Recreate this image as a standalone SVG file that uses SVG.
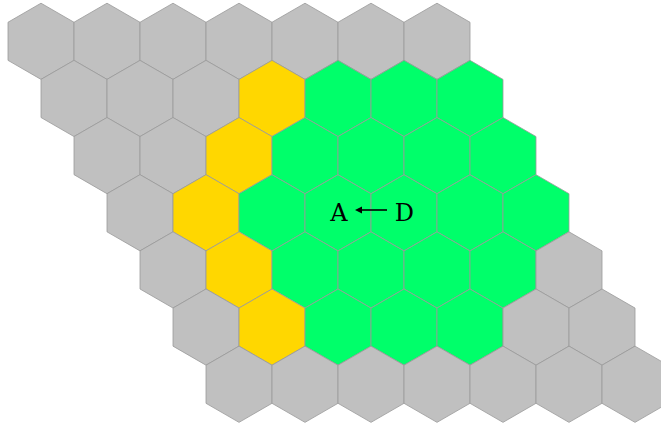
<svg xmlns="http://www.w3.org/2000/svg" xmlns:xlink="http://www.w3.org/1999/xlink" width="661" height="427" viewBox="0 0 661 427">
<style>
.g{fill:#c0c0c0}
.y{fill:#ffd700}
.n{fill:#00ff6a}
.hx{stroke:#999999;stroke-width:0.8}
.lbl{font-family:"DejaVu Serif","Liberation Serif",serif;font-size:24px;fill:#000;text-anchor:middle}
</style>
<defs>
<polygon id="hex" class="hx" points="0,-38.1 33,-19.05 33,19.05 0,38.1 -33,19.05 -33,-19.05"/>
</defs>
<rect width="661" height="427" fill="#ffffff"/>
<g id="r0">
<g id="h0_0" class="g"><use xlink:href="#hex" x="41" y="41.3"/></g>
<g id="h0_1" class="g"><use xlink:href="#hex" x="107" y="41.3"/></g>
<g id="h0_2" class="g"><use xlink:href="#hex" x="173" y="41.3"/></g>
<g id="h0_3" class="g"><use xlink:href="#hex" x="239" y="41.3"/></g>
<g id="h0_4" class="g"><use xlink:href="#hex" x="305" y="41.3"/></g>
<g id="h0_5" class="g"><use xlink:href="#hex" x="371" y="41.3"/></g>
<g id="h0_6" class="g"><use xlink:href="#hex" x="437" y="41.3"/></g>
</g>
<g id="r1">
<g id="h1_0" class="g"><use xlink:href="#hex" x="74" y="98.46"/></g>
<g id="h1_1" class="g"><use xlink:href="#hex" x="140" y="98.46"/></g>
<g id="h1_2" class="g"><use xlink:href="#hex" x="206" y="98.46"/></g>
<g id="h1_3" class="y"><use xlink:href="#hex" x="272" y="98.46"/></g>
<g id="h1_4" class="n"><use xlink:href="#hex" x="338" y="98.46"/></g>
<g id="h1_5" class="n"><use xlink:href="#hex" x="404" y="98.46"/></g>
<g id="h1_6" class="n"><use xlink:href="#hex" x="470" y="98.46"/></g>
</g>
<g id="r2">
<g id="h2_0" class="g"><use xlink:href="#hex" x="107" y="155.62"/></g>
<g id="h2_1" class="g"><use xlink:href="#hex" x="173" y="155.62"/></g>
<g id="h2_2" class="y"><use xlink:href="#hex" x="239" y="155.62"/></g>
<g id="h2_3" class="n"><use xlink:href="#hex" x="305" y="155.62"/></g>
<g id="h2_4" class="n"><use xlink:href="#hex" x="371" y="155.62"/></g>
<g id="h2_5" class="n"><use xlink:href="#hex" x="437" y="155.62"/></g>
<g id="h2_6" class="n"><use xlink:href="#hex" x="503" y="155.62"/></g>
</g>
<g id="r3">
<g id="h3_0" class="g"><use xlink:href="#hex" x="140" y="212.78"/></g>
<g id="h3_1" class="y"><use xlink:href="#hex" x="206" y="212.78"/></g>
<g id="h3_2" class="n"><use xlink:href="#hex" x="272" y="212.78"/></g>
<g id="h3_3" class="n"><use xlink:href="#hex" x="338" y="212.78"/></g>
<g id="h3_4" class="n"><use xlink:href="#hex" x="404" y="212.78"/></g>
<g id="h3_5" class="n"><use xlink:href="#hex" x="470" y="212.78"/></g>
<g id="h3_6" class="n"><use xlink:href="#hex" x="536" y="212.78"/></g>
</g>
<g id="r4">
<g id="h4_0" class="g"><use xlink:href="#hex" x="173" y="269.94"/></g>
<g id="h4_1" class="y"><use xlink:href="#hex" x="239" y="269.94"/></g>
<g id="h4_2" class="n"><use xlink:href="#hex" x="305" y="269.94"/></g>
<g id="h4_3" class="n"><use xlink:href="#hex" x="371" y="269.94"/></g>
<g id="h4_4" class="n"><use xlink:href="#hex" x="437" y="269.94"/></g>
<g id="h4_5" class="n"><use xlink:href="#hex" x="503" y="269.94"/></g>
<g id="h4_6" class="g"><use xlink:href="#hex" x="569" y="269.94"/></g>
</g>
<g id="r5">
<g id="h5_0" class="g"><use xlink:href="#hex" x="206" y="327.1"/></g>
<g id="h5_1" class="y"><use xlink:href="#hex" x="272" y="327.1"/></g>
<g id="h5_2" class="n"><use xlink:href="#hex" x="338" y="327.1"/></g>
<g id="h5_3" class="n"><use xlink:href="#hex" x="404" y="327.1"/></g>
<g id="h5_4" class="n"><use xlink:href="#hex" x="470" y="327.1"/></g>
<g id="h5_5" class="g"><use xlink:href="#hex" x="536" y="327.1"/></g>
<g id="h5_6" class="g"><use xlink:href="#hex" x="602" y="327.1"/></g>
</g>
<g id="r6">
<g id="h6_0" class="g"><use xlink:href="#hex" x="239" y="384.26"/></g>
<g id="h6_1" class="g"><use xlink:href="#hex" x="305" y="384.26"/></g>
<g id="h6_2" class="g"><use xlink:href="#hex" x="371" y="384.26"/></g>
<g id="h6_3" class="g"><use xlink:href="#hex" x="437" y="384.26"/></g>
<g id="h6_4" class="g"><use xlink:href="#hex" x="503" y="384.26"/></g>
<g id="h6_5" class="g"><use xlink:href="#hex" x="569" y="384.26"/></g>
<g id="h6_6" class="g"><use xlink:href="#hex" x="635" y="384.26"/></g>
</g>
<g id="labels">
<text id="A" class="lbl" x="339" y="221.3">A</text>
<text id="D" class="lbl" x="404.3" y="221.3">D</text>
</g>
<g id="connectors">
<line x1="387" y1="210" x2="360" y2="210" stroke="#000" stroke-width="1.6"/>
<path d="M355,210 L362,206.5 L362,213.5 Z" fill="#000"/>
</g>
</svg>
